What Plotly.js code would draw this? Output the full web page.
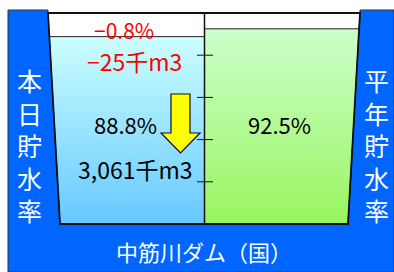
<!DOCTYPE html>
<html>
<head>
<meta charset="utf-8">
<script src="https://cdn.plot.ly/plotly-3.0.1.min.js"></script>
<style>html,body{margin:0;padding:0;background:#fff;}#chart{width:394px;height:272px;}</style>
</head>
<body>
<div id="chart"></div>
<script>
// ---- data ----
const damName = '中筋川ダム（国）';
const seriesNames = ['本日貯水率', '平年貯水率'];
const storageRates = [88.8, 92.5];      // % : today, normal year
const changeRate = -0.8;                // % change from previous day
const changeVolume = -25;               // 千m3
const storageVolume = 3061;             // 千m3
const tickValues = [20, 40, 60, 80];

// ---- geometry (layout only) ----
const W = 394, H = 272;
const basinTop = 13, basinBottom = 224;
const pxPerPct = (basinBottom - basinTop) / 100;
const yLo = (basinBottom - H) / pxPerPct, yHi = basinBottom / pxPerPct;
const P = py => 1 - py / H;        // pixel row -> paper
const leftTopX = 48, leftBotX = 60, rightTopX = 360, rightBotX = 348;
const divX = 204.5;
const leftX = p => leftBotX + (leftTopX - leftBotX) * p / 100;
const rightX = p => rightBotX + (rightTopX - rightBotX) * p / 100;

const fmtSigned = v => (v < 0 ? '−' : '+') + Math.abs(v);
const fmtNum = v => v.toLocaleString('en-US');
const jp = '"Noto Sans CJK JP", "Noto Sans", sans-serif';

const traces = [
  {
    x: [leftX(0), divX, divX, leftX(storageRates[0]), leftX(0)],
    y: [0, 0, storageRates[0], storageRates[0], 0],
    type: 'scatter', mode: 'lines', fill: 'toself',
    line: {color: '#222', width: 1},
    fillgradient: {type: 'vertical', start: 0, stop: storageRates[0],
      colorscale: [[0, '#66C8FF'], [1, '#CCFFFF']]},
    hoverinfo: 'skip', showlegend: false, name: seriesNames[0]
  },
  {
    x: [divX, rightX(0), rightX(storageRates[1]), divX, divX],
    y: [0, 0, storageRates[1], storageRates[1], 0],
    type: 'scatter', mode: 'lines', fill: 'toself',
    line: {color: '#222', width: 1},
    fillgradient: {type: 'vertical', start: 0, stop: storageRates[1],
      colorscale: [[0, '#99F55F'], [1, '#CCFFCC']]},
    hoverinfo: 'skip', showlegend: false, name: seriesNames[1]
  }
];

const pth = pts => 'M' + pts.map(([x, y]) => x + ',' + P(y)).join(' L') + ' Z';

const shapes = [
  // blue frame
  { type: 'path', xref: 'x', yref: 'paper', layer: 'below',
    path: pth([[8,10],[leftTopX,10],[leftTopX,basinTop],[leftBotX,basinBottom],[rightBotX,basinBottom],[rightTopX,basinTop],[rightTopX,10],[394,10],[394,272],[8,272]]),
    fillcolor: '#0066FF', line: {color: '#333', width: 1} },
  // basin outline
  { type: 'path', xref: 'x', yref: 'paper', layer: 'above',
    path: pth([[leftTopX,basinTop],[rightTopX,basinTop],[rightBotX,basinBottom],[leftBotX,basinBottom]]),
    fillcolor: 'rgba(0,0,0,0)', line: {color: '#111', width: 1.8} },
  // divider
  { type: 'line', xref: 'x', yref: 'paper', layer: 'above', x0: divX, x1: divX, y0: P(basinTop), y1: P(basinBottom),
    line: {color: '#111', width: 1.5} },
  // down arrow
  { type: 'path', xref: 'x', yref: 'paper', layer: 'above',
    path: pth([[171,94],[190,94],[190,133],[200,133],[180.5,153],[161,133],[171,133]]),
    fillcolor: '#FFFF00', line: {color: '#111', width: 1.2} }
];
tickValues.forEach(t => shapes.push({
  type: 'line', xref: 'x', yref: 'y', layer: 'above', x0: 197, x1: 213, y0: t, y1: t,
  line: {color: '#111', width: 1}
}));

const ann = (text, x, y, size, color) => ({
  text, x, y: P(y), xref: 'x', yref: 'paper', showarrow: false, xanchor: 'center', yanchor: 'middle',
  font: {family: jp, size, color}
});

const annotations = [
  ann(fmtSigned(changeRate) + '%', 124, 30, 21, '#FF0000'),
  ann(fmtSigned(changeVolume) + '千m3', 134, 61, 23, '#FF0000'),
  ann(storageRates[0].toFixed(1) + '%', 125, 124, 22, '#000'),
  ann(fmtNum(storageVolume) + '千m3', 135, 169, 23, '#000'),
  ann(storageRates[1].toFixed(1) + '%', 279, 124, 22, '#000'),
  ann(seriesNames[0].split('').join('<br>'), 29, 145, 25, '#FFF'),
  ann(seriesNames[1].split('').join('<br>'), 376, 145, 25, '#FFF'),
  ann(damName, 204, 251, 22, '#FFF')
];

const layout = {
  width: W, height: H,
  margin: {l: 0, r: 0, t: 0, b: 0, pad: 0},
  paper_bgcolor: '#fff', plot_bgcolor: 'rgba(0,0,0,0)',
  xaxis: {range: [0, W], domain: [0, 1], visible: false, fixedrange: true},
  yaxis: {range: [yLo, yHi], domain: [0, 1], visible: false, fixedrange: true},
  shapes, annotations, showlegend: false
};

Plotly.newPlot('chart', traces, layout, {displayModeBar: false, staticPlot: true});
</script>
</body>
</html>
